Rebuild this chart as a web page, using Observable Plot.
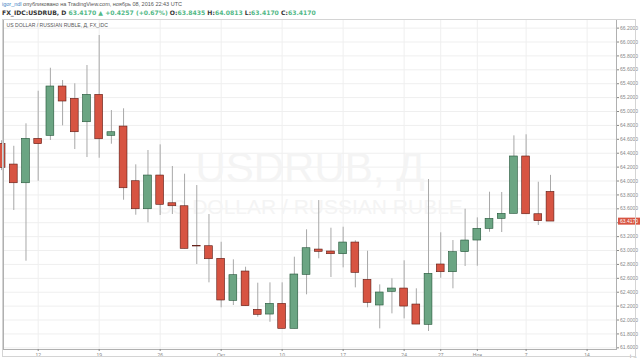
<!DOCTYPE html>
<html><head><meta charset="utf-8">
<script src="https://cdn.jsdelivr.net/npm/d3@7"></script>
<script src="https://cdn.jsdelivr.net/npm/@observablehq/plot@0.6"></script>
<style>
body{margin:0;background:#fff;width:640px;height:360px;overflow:hidden;font-family:"Liberation Sans",Arial,sans-serif;position:relative;}
#hdr{height:19px;position:relative;}
.l1{position:absolute;left:2px;top:1px;font-size:5.5px;color:#555;white-space:nowrap;font-family:"Liberation Sans",Arial,sans-serif;}
.l2{position:absolute;left:2px;top:9px;font-size:6.1px;font-weight:bold;color:#333;white-space:nowrap;font-family:"DejaVu Sans",sans-serif;}
.u{color:#3d85c6;}
.g{color:#53b987;}
#box{position:absolute;left:2px;top:19px;width:634px;height:338px;border:1px solid #d4d4d4;box-sizing:border-box;pointer-events:none;}
#chart{position:absolute;left:0;top:19px;}
</style></head><body>
<div id="hdr">
<div class="l1"><span class="u">igor_ndl</span> опубликовано на TradingView.com, ноябрь 08, 2016 22:43 UTC</div>
<div class="l2">FX_IDC:USDRUB, D <span class="g">63.4170 ▲ +0.4257 (+0.67%)</span> O:<span class="g">63.8435</span> H:<span class="g">64.0813</span> L:<span class="g">63.4170</span> C:<span class="g">63.4170</span></div>
</div>
<div id="chart"></div>
<div id="box"></div>
<script>
const dates = ["2016-09-07","2016-09-08","2016-09-09","2016-09-12","2016-09-13","2016-09-14","2016-09-15","2016-09-16",
"2016-09-19","2016-09-20","2016-09-21","2016-09-22","2016-09-23","2016-09-26","2016-09-27","2016-09-28","2016-09-29","2016-09-30",
"2016-10-03","2016-10-04","2016-10-05","2016-10-06","2016-10-07","2016-10-10","2016-10-11","2016-10-12","2016-10-13","2016-10-14",
"2016-10-17","2016-10-18","2016-10-19","2016-10-20","2016-10-21","2016-10-24","2016-10-25","2016-10-26","2016-10-27","2016-10-28",
"2016-10-31","2016-11-01","2016-11-02","2016-11-03","2016-11-04","2016-11-07","2016-11-08","2016-11-09"];
const open = [64.535,64.237,63.968,64.607,64.65,65.36,65.183,64.846,65.24,64.65,64.784,63.997,63.594,64.079,63.68,63.637,63.068,63.062,62.881,62.276,62.698,62.147,62.079,62.233,61.873,62.65,63.014,62.986,62.947,63.115,62.578,62.209,62.406,62.453,62.223,61.931,62.799,62.688,62.976,63.144,63.312,63.456,63.528,64.353,63.522,63.8435];
const high = [64.58,64.50,64.823,65.292,65.623,65.446,65.399,65.662,66.094,65.014,65.039,64.233,64.439,64.521,64.209,64.098,63.935,63.518,63.119,62.866,62.76,62.53,62.535,62.535,62.904,63.298,63.719,63.321,63.335,63.14,62.99,62.506,62.593,62.852,62.449,64.022,63.255,63.144,63.594,63.47,63.839,63.835,64.65,64.665,63.983,64.0813];
const low = [64.15,63.576,62.846,63.997,64.583,64.794,64.453,64.338,64.328,64.53,63.724,63.508,63.399,63.504,63.518,63.024,62.799,62.535,62.176,62.209,62.199,62.04,61.968,61.873,61.873,62.363,62.881,62.612,62.751,62.463,62.176,61.873,62.089,62.017,61.935,61.835,62.601,62.449,62.77,62.774,63.263,63.259,63.528,63.522,63.36,63.417];
const close = [64.19,63.968,64.607,64.53,65.36,65.144,64.702,65.24,64.601,64.702,63.896,63.594,64.079,63.658,63.637,63.024,63.058,62.875,62.281,62.645,62.199,62.075,62.233,61.873,62.655,63.033,62.981,62.947,63.115,62.679,62.247,62.396,62.453,62.194,61.935,62.665,62.688,62.976,63.144,63.312,63.456,63.528,64.353,63.522,63.422,63.417];
const tickIdx = [3,8,13,18,23,28,33,36,39,43,48];
const tickLabels = ["12","19","26","Окт","10","17","24","27","Ноя","7","14"];
const yTicks = [61.6,61.8,62.0,62.2,62.4,62.6,62.8,63.0,63.2,63.4,63.6,63.8,64.0,64.2,64.4,64.6,64.8,65.0,65.2,65.4,65.6,65.8,66.0,66.2];

const data = dates.map((d,i)=>({i, date:d, open:open[i], high:high[i], low:low[i], close:close[i]}));
const up = d => d.close >= d.open;
const half = 0.32;
const last = data[data.length-1];
const font = "Liberation Sans, Arial, sans-serif";

const chart = Plot.plot({
  width:640, height:341, marginTop:0, marginBottom:11, marginLeft:3, marginRight:24,
  x:{type:"linear", domain:[0.156,50.41], axis:null},
  y:{domain:[61.576,66.324], axis:null},
  style:{fontFamily:font, background:"transparent", overflow:"visible"},
  marks:[
    Plot.ruleY(yTicks,{stroke:"#efefef"}),
    Plot.ruleX(tickIdx,{stroke:"#efefef"}),
    Plot.text(["USDRUB, Д"],{frameAnchor:"middle", text:d=>d, dy:-16, fontSize:42, fill:"#f4f4f4"}),
    Plot.text(["US DOLLAR / RUSSIAN RUBLE"],{frameAnchor:"middle", text:d=>d, dy:23, fontSize:21, fill:"#f4f4f4"}),
    Plot.text(["US DOLLAR / RUSSIAN RUBLE, Д, FX_IDC"],{frameAnchor:"top-left", text:d=>d, dx:3, dy:3.5, fontSize:5.1, fill:"#555"}),
    Plot.ruleX(data,{x:"i", y1:"low", y2:"high", stroke:"#a8a8a8"}),
    Plot.rect(data,{x1:d=>d.i-half, x2:d=>d.i+half, y1:"open", y2:"close",
      fill:d=>up(d)?"#6ba583":"#d75442", stroke:d=>up(d)?"#225437":"#5b1a13", strokeWidth:0.6}),
    Plot.frame({stroke:"#b0b0b0"}),
    Plot.axisY({ticks:yTicks, anchor:"right", tickFormat:d=>d.toFixed(4), tickSize:2, tickPadding:1.5, fontSize:5, color:"#888"}),
    Plot.axisX({ticks:tickIdx, tickFormat:i=>tickLabels[tickIdx.indexOf(i)], tickSize:2, tickPadding:1.5, fontSize:5, color:"#888"}),
    Plot.text([last],{frameAnchor:"right", y:"close", text:d=>d.close.toFixed(4), dx:3.5, textAnchor:"start", fontSize:5, fill:"white"})
  ]
});
document.getElementById("chart").appendChild(chart);
// red background box behind the last-price label
const label = last.close.toFixed(4);
const texts = Array.from(chart.querySelectorAll("text")).filter(t=>{
  if (t.textContent !== label) return false;
  const g = t.closest("g");
  return (g && g.getAttribute("fill")==="white") || t.getAttribute("fill")==="white";
});
texts.forEach(t=>{
  const bb = t.getBBox();
  const r = document.createElementNS("http://www.w3.org/2000/svg","rect");
  r.setAttribute("x", bb.x-2); r.setAttribute("y", bb.y-0.5);
  r.setAttribute("width", bb.width+4); r.setAttribute("height", bb.height+1);
  r.setAttribute("fill", "#d75442");
  const tr = t.getAttribute("transform");
  if (tr) r.setAttribute("transform", tr);
  t.parentNode.insertBefore(r, t);
});
</script>
</body></html>
